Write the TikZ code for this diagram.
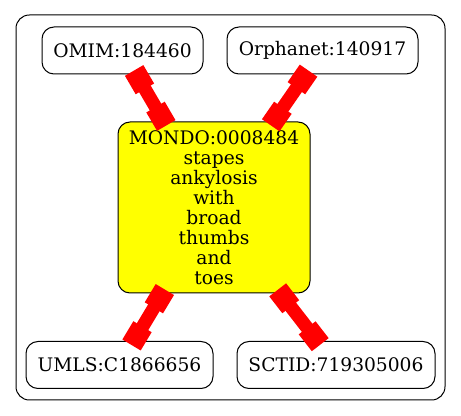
\documentclass[tikz,border=0pt]{standalone}
\usepackage{fontspec}
\setmainfont{DejaVu Serif}
\usetikzlibrary{decorations.markings}
\definecolor{mondofill}{RGB}{255,255,0}
\definecolor{linkred}{RGB}{255,0,0}

\begin{document}
\begin{tikzpicture}[
    x=0.75pt,
    y=-0.75pt,
    font=\fontsize{14}{15}\selectfont,
    term/.style={
        rectangle,
        draw=black,
        fill=#1,
        line width=0.75pt,
        rounded corners=9pt,
        minimum height=35.25pt,
        align=center,
        inner sep=2pt
    },
    term/.default=white,
    linkbox/.style={
        decoration={markings,
            mark=at position 4.5pt with {\fill[linkred] (-8pt,-8pt) rectangle (8pt,8pt);},
            mark=at position -4.5pt with {\fill[linkred] (-8pt,-8pt) rectangle (8pt,8pt);}},
        postaction={decorate}
    },
    link/.style={draw=linkred, line width=10pt, linkbox}
]

\useasboundingbox (0,0) rectangle (461,416);

\draw[line width=0.75pt, rounded corners=10pt] (16,15) rectangle (445,400);

\node[term, minimum width=120.75pt] (omim) at (122.5,50.5) {OMIM:184460};
\node[term, minimum width=143.25pt] (orphanet) at (322.5,50.5) {Orphanet:140917};

\node[term=mondofill, minimum width=144pt, minimum height=128.25pt] (mondo) at (214,207.5)
    {MONDO:0008484\\stapes\\ankylosis\\with\\broad\\thumbs\\and\\toes};

\node[term, minimum width=140.25pt] (umls) at (119.5,365) {UMLS:C1866656};
\node[term, minimum width=148.5pt] (sctid) at (336,365) {SCTID:719305006};

\foreach \a in {omim,orphanet,umls,sctid}
    \draw[link] (\a) -- (mondo);

\end{tikzpicture}
\end{document}
